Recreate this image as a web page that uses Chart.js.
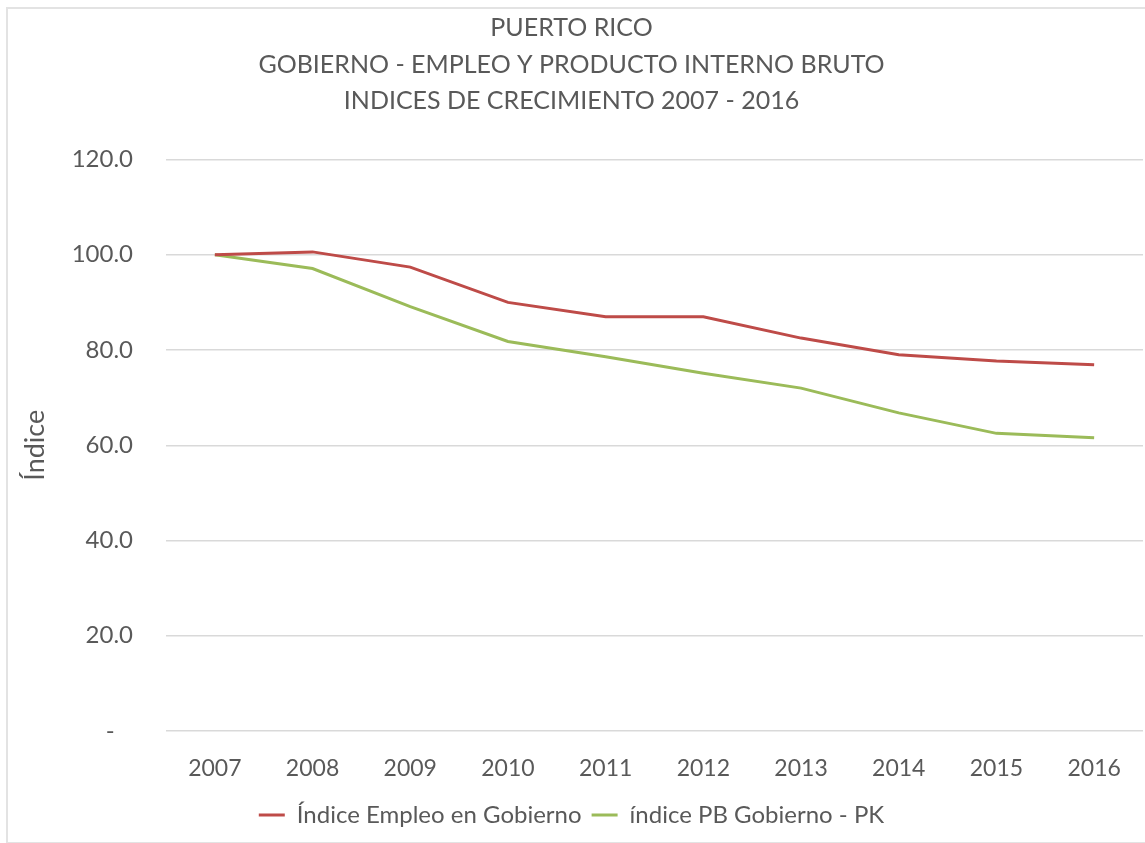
<!DOCTYPE html>
<html>
<head>
<meta charset="utf-8">
<script src="https://cdn.jsdelivr.net/npm/chart.js@4.4.1/dist/chart.umd.min.js"></script>
<style>
  html, body { margin: 0; padding: 0; background: #fff; }
  #wrap { position: relative; width: 1145px; height: 843px; overflow: hidden; }
  #frame { position: absolute; left: 6px; top: 7px; width: 1160px; height: 833px;
           border: 2px solid #e3e3e3; pointer-events: none; }
  canvas { position: absolute; left: 0; top: 0; }
</style>
</head>
<body>
<div id="wrap">
  <canvas id="chart" width="1145" height="843"></canvas>
  <div id="frame"></div>
</div>
<script>
// years on the x axis
const years = ['2007', '2008', '2009', '2010', '2011', '2012', '2013', '2014', '2015', '2016'];

// growth indices, 2007 = 100
const empleoGobierno = [100.0, 100.6, 97.4, 90.0, 87.0, 87.0, 82.5, 79.0, 77.7, 76.9];
const pbGobierno = [100.0, 97.1, 89.1, 81.8, 78.6, 75.1, 72.0, 66.8, 62.5, 61.6];

// y ticks and the labels printed next to them
const yTicks = [0, 20, 40, 60, 80, 100, 120];
const yTickLabels = ['-   ', '20.0', '40.0', '60.0', '80.0', '100.0', '120.0'];

const titleLines = [
  'PUERTO RICO',
  'GOBIERNO - EMPLEO Y PRODUCTO INTERNO BRUTO',
  'INDICES DE CRECIMIENTO 2007 - 2016'
];

const gray = '#595959';
const fontFamily = 'Lato, "Open Sans", sans-serif';

const ctx = document.getElementById('chart').getContext('2d');
new Chart(ctx, {
  type: 'line',
  data: {
    labels: years,
    datasets: [
      {
        label: 'Índice Empleo en Gobierno',
        data: empleoGobierno,
        borderColor: '#be4b48',
        backgroundColor: '#be4b48',
        borderWidth: 3,
        pointRadius: 0,
        pointStyle: 'line',
        tension: 0
      },
      {
        label: 'índice PB Gobierno - PK',
        data: pbGobierno,
        borderColor: '#9bbb59',
        backgroundColor: '#9bbb59',
        borderWidth: 3,
        pointRadius: 0,
        pointStyle: 'line',
        tension: 0
      }
    ]
  },
  options: {
    responsive: false,
    animation: false,
    layout: { padding: { top: 0, right: 2, bottom: 6, left: 0 } },
    plugins: {
      title: {
        display: true,
        text: titleLines,
        color: gray,
        font: { family: fontFamily, size: 25, weight: 'normal', lineHeight: 1.46 },
        padding: { top: 10, bottom: 40 }
      },
      legend: {
        position: 'bottom',
        labels: {
          color: gray,
          font: { family: fontFamily, size: 24 },
          usePointStyle: true,
          pointStyleWidth: 26,
          padding: 10
        }
      },
      tooltip: { enabled: false }
    },
    scales: {
      x: {
        offset: true,
        grid: { display: false, drawTicks: false },
        border: { display: false },
        ticks: { color: gray, font: { family: fontFamily, size: 23 }, padding: 24 },
        afterFit: (scale) => { scale.height = 62; }
      },
      y: {
        min: 0,
        max: 120,
        afterBuildTicks: (scale) => { scale.ticks = yTicks.map(v => ({ value: v })); },
        grid: { color: '#d9d9d9', lineWidth: 1.5, drawTicks: false },
        border: { display: false },
        ticks: {
          color: gray,
          font: { family: fontFamily, size: 24 },
          padding: 33,
          callback: (v) => yTickLabels[yTicks.indexOf(v)]
        },
        title: {
          display: true,
          text: 'Índice',
          color: gray,
          font: { family: fontFamily, size: 27 },
          padding: { top: 19, bottom: 0 }
        },
        afterFit: (scale) => { scale.width = 166; }
      }
    }
  }
});
</script>
</body>
</html>
